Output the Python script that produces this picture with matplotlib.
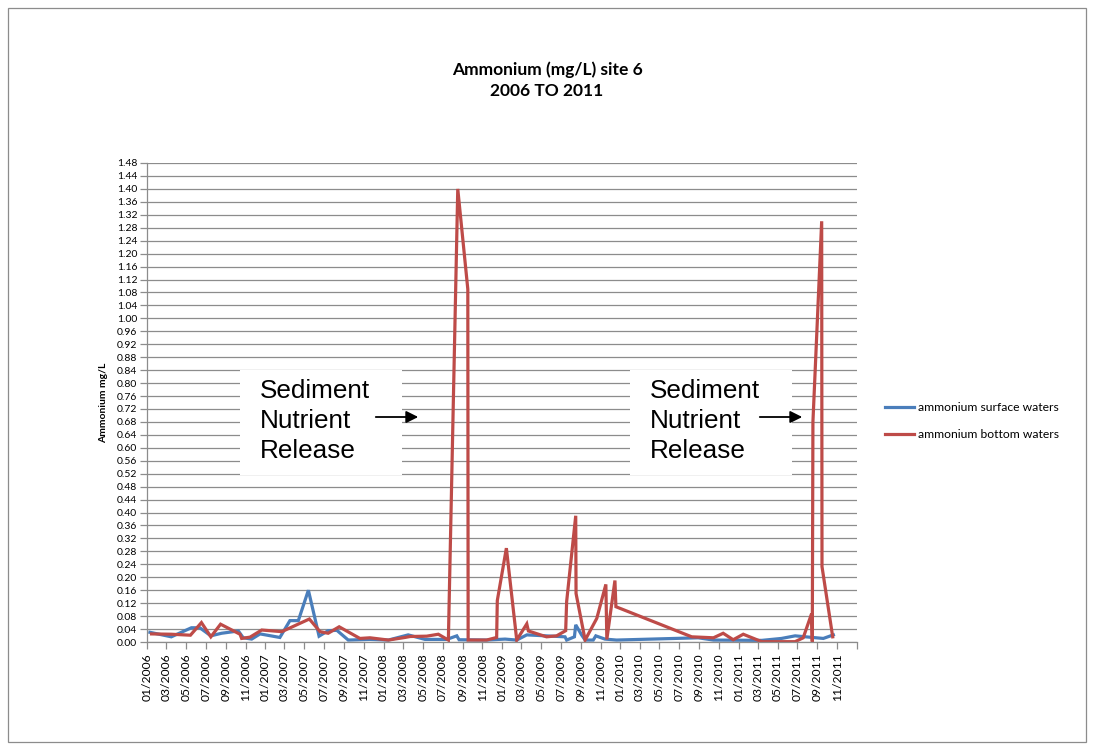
import numpy as np
import pandas as pd
import matplotlib
matplotlib.use("Agg")
import matplotlib.pyplot as plt
from matplotlib.patches import Rectangle

plt.rcParams['font.family'] = ['Lato', 'DejaVu Sans']

# Data
SURFACE_DATES = [
    "2006-01-10", "2006-03-17", "2006-05-18", "2006-06-13", "2006-07-17", "2006-08-19",
    "2006-10-10", "2006-10-25", "2006-11-20", "2006-12-16", "2007-02-15", "2007-03-18",
    "2007-04-13", "2007-05-14", "2007-06-16", "2007-07-14", "2007-08-10", "2007-09-14",
    "2007-11-20", "2008-01-16", "2008-03-17", "2008-05-08", "2008-07-14", "2008-08-14",
    "2008-08-21", "2008-11-14", "2009-01-10", "2009-02-15", "2009-03-18", "2009-07-14",
    "2009-07-19", "2009-08-12", "2009-08-16", "2009-09-03", "2009-09-14", "2009-10-09",
    "2009-10-17", "2009-11-14", "2009-12-20", "2010-08-29", "2010-10-15", "2011-03-13",
    "2011-05-13", "2011-06-24", "2011-09-19", "2011-10-20",
]
SURFACE_VALUES = [
    0.030, 0.016, 0.044, 0.044, 0.019, 0.027,
    0.034, 0.013, 0.009, 0.025, 0.014, 0.066,
    0.066, 0.160, 0.018, 0.035, 0.036, 0.006,
    0.008, 0.006, 0.022, 0.008, 0.008, 0.019,
    0.007, 0.006, 0.009, 0.006, 0.022, 0.016,
    0.006, 0.016, 0.053, 0.022, 0.006, 0.006,
    0.019, 0.009, 0.006, 0.013, 0.006, 0.005,
    0.011, 0.019, 0.011, 0.022,
]

BOTTOM_DATES = [
    "2006-01-15", "2006-03-17", "2006-05-15", "2006-06-18", "2006-07-17", "2006-08-16",
    "2006-10-15", "2006-10-20", "2006-11-15", "2006-12-21", "2007-02-21", "2007-05-17",
    "2007-06-19", "2007-07-14", "2007-08-17", "2007-10-20", "2007-11-20", "2008-01-16",
    "2008-03-07", "2008-03-23", "2008-05-13", "2008-06-18", "2008-07-19", "2008-08-17",
    "2008-09-17", "2008-09-18", "2008-11-14", "2008-12-15", "2008-12-17", "2009-01-14",
    "2009-02-15", "2009-03-18", "2009-03-23", "2009-05-18", "2009-06-18", "2009-07-16",
    "2009-07-19", "2009-08-16", "2009-08-17", "2009-09-14", "2009-10-20", "2009-11-17",
    "2009-11-20", "2009-12-15", "2009-12-18", "2010-08-09", "2010-10-15", "2010-11-14",
    "2010-12-15", "2011-01-15", "2011-03-13", "2011-06-24", "2011-07-19", "2011-08-14",
    "2011-08-16", "2011-08-18", "2011-09-14", "2011-09-15", "2011-10-18",
]
BOTTOM_VALUES = [
    0.025, 0.024, 0.021, 0.060, 0.016, 0.055,
    0.024, 0.011, 0.015, 0.037, 0.032, 0.071,
    0.032, 0.027, 0.047, 0.011, 0.013, 0.006,
    0.014, 0.017, 0.018, 0.024, 0.006, 1.400,
    1.090, 0.006, 0.006, 0.014, 0.128, 0.290,
    0.006, 0.056, 0.034, 0.016, 0.019, 0.035,
    0.125, 0.390, 0.150, 0.006, 0.073, 0.178,
    0.008, 0.190, 0.109, 0.016, 0.013, 0.027,
    0.007, 0.024, 0.001, 0.001, 0.013, 0.088,
    0.001, 0.680, 1.300, 0.233, 0.016,
]

TITLE = "Ammonium (mg/L) site 6\n2006 TO 2011"
Y_LABEL = "Ammonium mg/L"
LABELS = ["ammonium surface waters", "ammonium bottom waters"]
NOTE = "Sediment\nNutrient\nRelease"

BLUE = "#4A7EBB"
RED = "#BE4B48"
GRID = "#8C8C8C"

surface = pd.Series(SURFACE_VALUES, index=pd.to_datetime(SURFACE_DATES))
bottom = pd.Series(BOTTOM_VALUES, index=pd.to_datetime(BOTTOM_DATES))

W, H = 1094, 750
fig = plt.figure(figsize=(W / 100, H / 100), dpi=100)
ax = fig.add_axes([147 / W, 1 - 642 / H, 710 / W, 479 / H])

ax.plot(surface.index, surface.values, color=BLUE, lw=2.3, label=LABELS[0], solid_joinstyle='miter')
ax.plot(bottom.index, bottom.values, color=RED, lw=2.3, label=LABELS[1], solid_joinstyle='miter')

# y axis
ax.set_ylim(0, 1.48)
ax.set_yticks(np.arange(0, 1.4801, 0.04))
ax.yaxis.set_major_formatter(matplotlib.ticker.FormatStrFormatter('%.2f'))
ax.grid(axis='y', color=GRID, lw=0.9)
ax.set_axisbelow(True)
ax.set_ylabel(Y_LABEL, fontsize=7.5, fontweight='bold', labelpad=6)

# x axis (date axis, tick every 2 months)
x_start, x_end = pd.Timestamp("2006-01-01"), pd.Timestamp("2012-01-01")
ax.set_xlim(x_start, x_end)
ticks = pd.date_range(x_start, x_end, freq="2MS")
ax.set_xticks(ticks)
ax.set_xticklabels([t.strftime("%m/%Y") if t < x_end else "" for t in ticks],
                   rotation=90, fontsize=8.7)

ax.tick_params(axis='both', direction='out', length=5, color=GRID, width=0.9)
ax.tick_params(axis='y', labelsize=7.5, pad=2)
ax.tick_params(axis='x', pad=3)
for side in ['top', 'right']:
    ax.spines[side].set_visible(False)
for side in ['left', 'bottom']:
    ax.spines[side].set_color(GRID)
    ax.spines[side].set_linewidth(0.9)

# title
fig.text(0.5, 1 - 80 / H, TITLE, ha='center', va='center', fontsize=12.5,
         fontweight='bold', linespacing=1.4)

# legend
fig.legend(loc='center left', bbox_to_anchor=(874 / W, 1 - 421 / H), frameon=False,
           fontsize=8.7, handlelength=2.4, handletextpad=0.3, labelspacing=1.3)

# annotation boxes with arrows
for bx, tx, ax0, ax1 in [(240, 260, 373, 421), (630, 650, 757, 805)]:
    fig.patches.append(Rectangle((bx / W, 1 - 475 / H), 162 / W, 105 / H,
                                 transform=fig.transFigure, facecolor='white',
                                 edgecolor='none', zorder=2))
    fig.text(tx / W, 1 - 421 / H, NOTE, ha='left', va='center', fontsize=18.8,
             family=['Liberation Sans'], linespacing=1.3, zorder=3)
    fig.add_artist(matplotlib.patches.FancyArrowPatch(
        (ax0 / W, 1 - 417 / H), (ax1 / W, 1 - 417 / H), transform=fig.transFigure,
        arrowstyle='-|>', mutation_scale=18, color='black', lw=1.3, zorder=3))

# chart area border
fig.patches.append(Rectangle((8 / W, 8 / H), 1078 / W, 734 / H, transform=fig.transFigure,
                             facecolor='none', edgecolor='#8C8C8C', lw=0.9))

fig.savefig("out.png", dpi=100)
